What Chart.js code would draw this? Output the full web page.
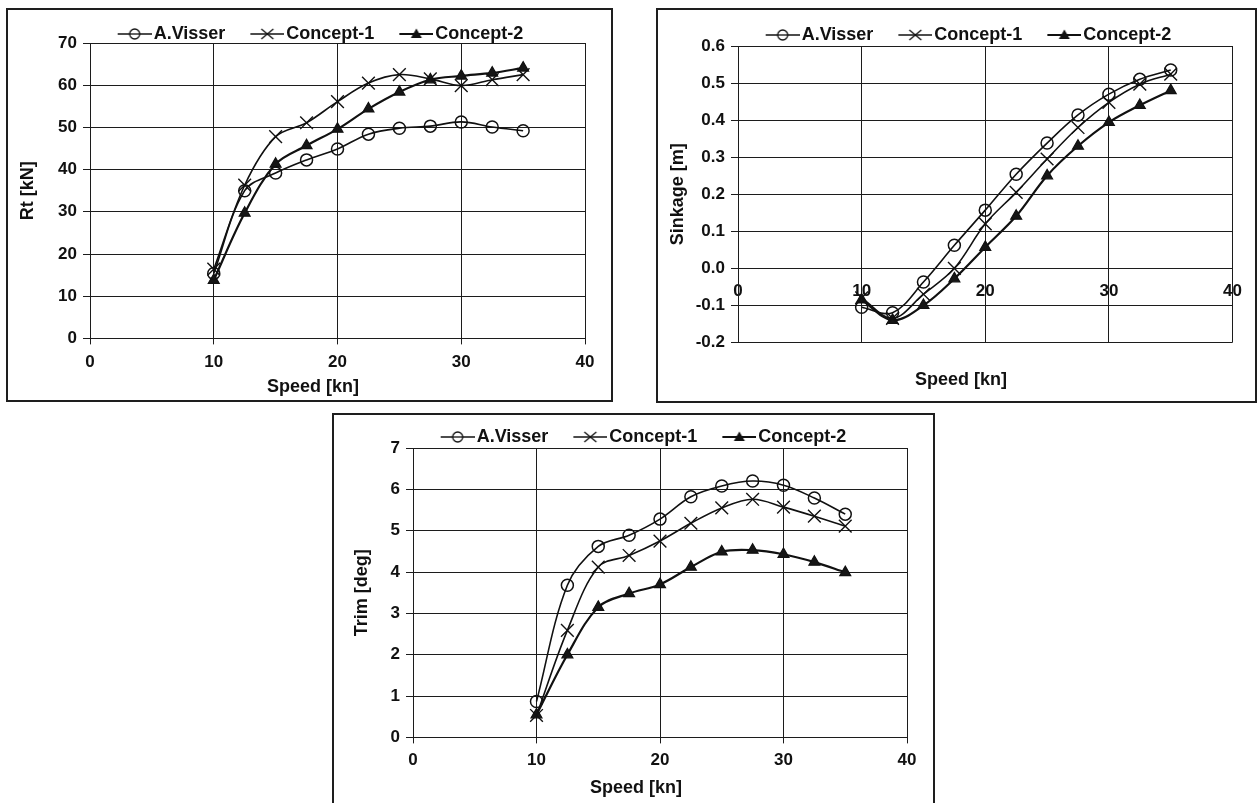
<!DOCTYPE html>
<html>
<head>
<meta charset="utf-8">
<script src="https://cdn.jsdelivr.net/npm/chart.js@4.4.1/dist/chart.umd.min.js"></script>
<style>
  html, body { margin: 0; padding: 0; background: #ffffff; }
  body { width: 1258px; height: 803px; position: relative; overflow: hidden; }
  .box { position: absolute; border: 2px solid #1e1e1e; box-sizing: border-box; background: #fff; }
  canvas { position: absolute; }
</style>
</head>
<body>
<div class="box" style="left:6px;top:8px;width:607px;height:394px;"></div>
<div class="box" style="left:656px;top:8px;width:601px;height:395px;"></div>
<div class="box" style="left:332px;top:413px;width:603px;height:420px;"></div>
<canvas id="cRt" width="604" height="391" style="left:7px;top:9px;"></canvas>
<canvas id="cSink" width="597" height="392" style="left:658px;top:9px;"></canvas>
<canvas id="cTrim" width="600" height="389" style="left:333px;top:414px;"></canvas>
<script>
// ---- data ----
const speeds = [10, 12.5, 15, 17.5, 20, 22.5, 25, 27.5, 30, 32.5, 35];
const seriesNames = ['A.Visser', 'Concept-1', 'Concept-2'];

const rtVisser   = [15.4, 35.0, 39.2, 42.3, 44.9, 48.4, 49.8, 50.3, 51.3, 50.1, 49.2];
const rtConcept1 = [16.4, 36.3, 47.8, 51.1, 56.1, 60.5, 62.5, 61.5, 59.9, 61.3, 62.5];
const rtConcept2 = [13.8, 29.7, 41.3, 45.7, 49.6, 54.4, 58.4, 61.3, 62.2, 62.9, 64.1];

const sinkVisser   = [-0.105, -0.12, -0.037, 0.062, 0.157, 0.254, 0.338, 0.414, 0.470, 0.510, 0.535];
const sinkConcept1 = [-0.080, -0.135, -0.070, 0.000, 0.120, 0.205, 0.295, 0.380, 0.448, 0.497, 0.524];
const sinkConcept2 = [-0.085, -0.140, -0.100, -0.028, 0.057, 0.141, 0.250, 0.330, 0.394, 0.440, 0.480];

const trimVisser   = [0.87, 3.68, 4.62, 4.89, 5.28, 5.82, 6.08, 6.20, 6.10, 5.79, 5.40];
const trimConcept1 = [0.53, 2.59, 4.12, 4.40, 4.75, 5.18, 5.55, 5.76, 5.57, 5.35, 5.11];
const trimConcept2 = [0.55, 2.00, 3.15, 3.48, 3.70, 4.12, 4.49, 4.53, 4.43, 4.24, 3.99];

const speedTicks = [0, 10, 20, 30, 40];
const rtTicks    = [0, 10, 20, 30, 40, 50, 60, 70];
const sinkTicks  = [-0.2, -0.1, 0.0, 0.1, 0.2, 0.3, 0.4, 0.5, 0.6];
const trimTicks  = [0, 1, 2, 3, 4, 5, 6, 7];

const xTitle = 'Speed [kn]';

// ---- styling ----
const FONT = '"Liberation Sans", Arial, Helvetica, sans-serif';
const INK = '#111111';
const GRID = '#1c1c1c';

const markerStyles = [
  { pointStyle: 'circle',   radius: 6,   fill: 'rgba(0,0,0,0)', width: 1.5, lineWidth: 1.6 },
  { pointStyle: 'crossRot', radius: 9,   fill: 'rgba(0,0,0,0)', width: 1.4, lineWidth: 1.6 },
  { pointStyle: 'triangle', radius: 6.3, fill: '#161616',       width: 1.2, lineWidth: 2.2 }
];

// legend icons: line with marker in the middle (transparent left margin for spacing)
function makeIcon(k) {
  const c = document.createElement('canvas');
  c.width = 56; c.height = 18;
  const g = c.getContext('2d');
  const y = 9, x0 = 22, x1 = 56, cx = 39;
  g.strokeStyle = INK; g.fillStyle = INK;
  g.lineWidth = markerStyles[k].lineWidth;
  g.beginPath(); g.moveTo(x0, y); g.lineTo(x1, y); g.stroke();
  g.lineWidth = 1.3;
  if (k === 0) {
    g.fillStyle = '#fff';
    g.beginPath(); g.arc(cx, y, 5, 0, Math.PI * 2); g.fill(); g.stroke();
    g.beginPath(); g.moveTo(cx - 5, y); g.lineTo(cx + 5, y); g.stroke();
  } else if (k === 1) {
    g.beginPath();
    g.moveTo(cx - 6, y - 5); g.lineTo(cx + 6, y + 5);
    g.moveTo(cx + 6, y - 5); g.lineTo(cx - 6, y + 5);
    g.stroke();
  } else {
    g.beginPath();
    g.moveTo(cx, y - 5.5); g.lineTo(cx + 5.5, y + 4); g.lineTo(cx - 5.5, y + 4);
    g.closePath(); g.fill();
  }
  return c;
}
const icons = [makeIcon(0), makeIcon(1), makeIcon(2)];

function ticksFrom(arr) {
  return function (scale) { scale.ticks = arr.map(v => ({ value: v })); };
}

function buildChart(id, spec) {
  const datasets = spec.series.map((vals, k) => ({
    label: seriesNames[k],
    data: speeds.map((s, i) => ({ x: s, y: vals[i] })),
    borderColor: INK,
    borderWidth: markerStyles[k].lineWidth,
    backgroundColor: markerStyles[k].fill,
    pointStyle: markerStyles[k].pointStyle,
    pointRadius: markerStyles[k].radius,
    pointBorderWidth: markerStyles[k].width,
    pointBorderColor: INK,
    pointBackgroundColor: markerStyles[k].fill,
    tension: 0.35,
    fill: false
  }));

  const xScale = {
    type: 'linear',
    min: 0, max: 40,
    afterBuildTicks: ticksFrom(speedTicks),
    grid: { color: GRID, lineWidth: 1, drawTicks: spec.xDrawTicks, tickLength: 6, tickColor: GRID },
    border: { display: true, color: GRID, width: 1 },
    ticks: { color: INK, padding: spec.xTickPad, maxRotation: 0, autoSkip: false,
             font: { family: FONT, size: 17, weight: 'bold' } },
    afterFit: s => { s.height = spec.xH; }
  };
  if (spec.xAtZero) xScale.position = { y: 0 }; else xScale.position = 'bottom';

  const cfg = {
    type: 'line',
    data: { datasets },
    options: {
      responsive: false,
      animation: false,
      devicePixelRatio: 1,
      events: [],
      layout: { padding: { left: spec.padL, top: spec.padT, right: 0, bottom: 0 } },
      scales: {
        x: xScale,
        y: {
          type: 'linear',
          position: 'left',
          min: spec.yMin, max: spec.yMax,
          afterBuildTicks: ticksFrom(spec.yTicks),
          grid: { color: GRID, lineWidth: 1, drawTicks: true, tickLength: 7, tickColor: GRID },
          border: { display: true, color: GRID, width: 1 },
          ticks: { color: INK, padding: 6,
                   font: { family: FONT, size: 17, weight: 'bold' },
                   callback: spec.yFmt },
          title: { display: true, text: spec.yTitle, color: INK,
                   font: { family: FONT, size: 18, weight: 'bold' },
                   padding: { top: spec.yTitlePad, bottom: 0 } },
          afterFit: s => { s.width = spec.yW; }
        },
        yR: {
          type: 'linear', position: 'right', display: true,
          grid: { display: false, drawTicks: false },
          border: { display: false },
          ticks: { display: false },
          afterFit: s => { s.width = spec.rightW; }
        }
      },
      plugins: {
        tooltip: { enabled: false },
        legend: {
          display: true,
          position: 'top',
          align: 'center',
          maxHeight: spec.legendH,
          labels: {
            usePointStyle: true,
            pointStyleWidth: 42,
            padding: 10,
            color: INK,
            font: { family: FONT, size: 18, weight: 'bold' },
            generateLabels: chart => chart.data.datasets.map((ds, i) => ({
              text: ds.label, pointStyle: icons[i], fontColor: INK,
              fillStyle: 'rgba(0,0,0,0)', strokeStyle: 'rgba(0,0,0,0)', lineWidth: 0,
              hidden: false, datasetIndex: i
            }))
          }
        },
        title: {
          display: true,
          position: 'bottom',
          fullSize: true,
          text: xTitle,
          color: INK,
          font: { family: FONT, size: 18, weight: 'bold', lineHeight: 1.2 },
          padding: { top: spec.tPadTop, bottom: spec.tPadBot }
        }
      }
    }
  };
  return new Chart(document.getElementById(id), cfg);
}

buildChart('cRt', {
  series: [rtVisser, rtConcept1, rtConcept2],
  yTicks: rtTicks, yMin: 0, yMax: 70, yTitle: 'Rt [kN]',
  yFmt: v => String(v),
  padL: 8, padT: 6, legendH: 28, yW: 75, yTitlePad: 2, rightW: 26,
  xH: 34, xTickPad: 8, xDrawTicks: true, xAtZero: false,
  tPadTop: 4, tPadBot: 2
});

buildChart('cSink', {
  series: [sinkVisser, sinkConcept1, sinkConcept2],
  yTicks: sinkTicks, yMin: -0.2, yMax: 0.6, yTitle: 'Sinkage [m]',
  yFmt: v => (Math.abs(v) < 1e-9 ? 0 : v).toFixed(1),
  padL: 9, padT: 7, legendH: 30, yW: 71, yTitlePad: 0, rightW: 20,
  xH: 0, xTickPad: 13, xDrawTicks: false, xAtZero: true,
  tPadTop: 27, tPadBot: 10
});

buildChart('cTrim', {
  series: [trimVisser, trimConcept1, trimConcept2],
  yTicks: trimTicks, yMin: 0, yMax: 7, yTitle: 'Trim [deg]',
  yFmt: v => String(v),
  padL: 6, padT: 4, legendH: 30, yW: 74, yTitlePad: 12, rightW: 26,
  xH: 34, xTickPad: 7, xDrawTicks: true, xAtZero: false,
  tPadTop: 6, tPadBot: 4
});
</script>
</body>
</html>
